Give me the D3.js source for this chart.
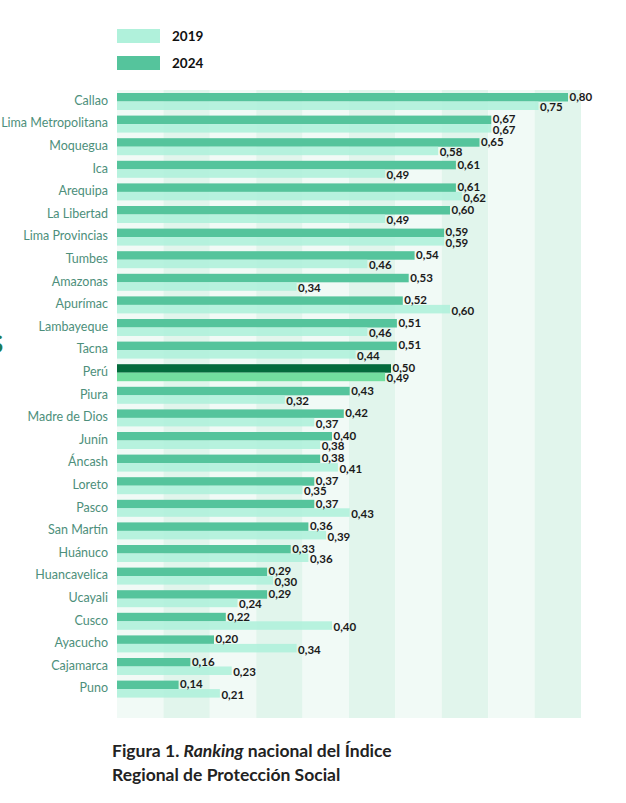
<!DOCTYPE html>
<html>
<head>
<meta charset="utf-8">
<script src="https://cdn.jsdelivr.net/npm/d3@7"></script>
<style>
    body { margin: 0; background: #fff; }
    svg { display: block; }
</style>
</head>
<body>
<svg class="ranking"></svg>
<script>
// data
const regions = ["Callao", "Lima Metropolitana", "Moquegua", "Ica", "Arequipa", "La Libertad",
    "Lima Provincias", "Tumbes", "Amazonas", "Apurímac", "Lambayeque", "Tacna", "Perú", "Piura",
    "Madre de Dios", "Junín", "Áncash", "Loreto", "Pasco", "San Martín", "Huánuco", "Huancavelica",
    "Ucayali", "Cusco", "Ayacucho", "Cajamarca", "Puno"];
const values2024 = [0.80, 0.67, 0.65, 0.61, 0.61, 0.60, 0.59, 0.54, 0.53, 0.52, 0.51, 0.51, 0.50, 0.43,
    0.42, 0.40, 0.38, 0.37, 0.37, 0.36, 0.33, 0.29, 0.29, 0.22, 0.20, 0.16, 0.14];
const values2019 = [0.75, 0.67, 0.58, 0.49, 0.62, 0.49, 0.59, 0.46, 0.34, 0.60, 0.46, 0.44, 0.49, 0.32,
    0.37, 0.38, 0.41, 0.35, 0.43, 0.39, 0.36, 0.30, 0.24, 0.40, 0.34, 0.23, 0.21];
const years = ["2024", "2019"];
const legendYears = ["2019", "2024"];

const W = 626, H = 803;
const plotLeft = 117, plotRight = 581, plotTop = 90, plotBottom = 718;

const colors = {"2024": "#55c49c", "2019": "#b0f1db"};
const peruColors = {"2024": "#036b3c", "2019": "#72de9f"};

const svg = d3.select(".ranking")
    .attr("width", W)
    .attr("height", H);

// scales
const x = d3.scaleLinear()
    .domain([0, 0.8])
    .range([96, 568]);

const y = d3.scaleBand()
    .domain(regions)
    .range([93, 93 + 26 * 22.6 + 17])
    .paddingInner(0.248)
    .paddingOuter(0);

const ySub = d3.scaleBand()
    .domain(years)
    .range([0, y.bandwidth()]);

// background stripes
const stripes = d3.scaleBand()
    .domain(d3.range(10))
    .range([plotLeft, plotRight]);

svg.append("g")
    .selectAll("rect")
    .data(stripes.domain())
    .enter()
    .append("rect")
        .attr("x", d => stripes(d))
        .attr("y", plotTop)
        .attr("width", stripes.bandwidth())
        .attr("height", plotBottom - plotTop)
        .attr("fill", d => d % 2 ? "#e1f5ec" : "#f1faf6");

// legend
const legend = svg.append("g");
legendYears.forEach((yr, i) => {
    legend.append("rect")
        .attr("x", 117)
        .attr("y", 29 + i * 27)
        .attr("width", 43)
        .attr("height", 14)
        .attr("fill", colors[yr]);
    legend.append("text")
        .attr("x", 172)
        .attr("y", 36 + i * 27)
        .attr("dy", "0.35em")
        .style("font-family", "Lato")
        .style("font-weight", "700")
        .style("font-size", "13.5px")
        .style("fill", "#111")
        .text(yr);
});

// bars
const rows = svg.append("g")
    .selectAll("g")
    .data(regions)
    .enter()
    .append("g")
        .attr("transform", d => `translate(0,${y(d)})`);

const rowData = (d, i) => years.map(yr => ({
    region: d, year: yr, value: yr === "2024" ? values2024[i] : values2019[i]
}));

rows.selectAll("rect")
    .data(rowData)
    .enter()
    .append("rect")
        .attr("x", plotLeft)
        .attr("y", d => ySub(d.year))
        .attr("width", d => x(d.value) - plotLeft)
        .attr("height", ySub.bandwidth())
        .attr("fill", d => d.region === "Perú" ? peruColors[d.year] : colors[d.year])
        .attr("fill-opacity", d => d.year === "2019" && d.region !== "Perú" ? 0.9 : 1);

// value labels
rows.selectAll("text.val")
    .data(rowData)
    .enter()
    .append("text")
        .attr("class", "val")
        .attr("x", d => x(d.value) + 1.5)
        .attr("y", d => ySub(d.year) + ySub.bandwidth() / 2 + (d.year === "2019" ? 1.5 : -0.5))
        .attr("dy", "0.35em")
        .style("font-family", "Lato")
        .style("font-weight", "700")
        .style("font-size", "11.5px")
        .style("fill", "#1b1b1b")
        .text(d => d3.format(".2f")(d.value).replace(".", ","));

// region names
rows.append("text")
    .attr("x", 108)
    .attr("y", y.bandwidth() / 2 - 1)
    .attr("dy", "0.35em")
    .attr("text-anchor", "end")
    .style("font-family", "Lato")
    .style("font-size", "12.5px")
    .style("fill", "#4d8f7b")
    .text(d => d);

// clipped glyph at the left edge
svg.append("text")
    .attr("x", -10)
    .attr("y", 353)
    .style("font-family", "Lato")
    .style("font-weight", "700")
    .style("font-size", "24px")
    .style("fill", "#1e7a56")
    .text("S");

// caption
const cap = svg.append("text")
    .attr("x", 112)
    .attr("y", 757)
    .style("font-family", "Lato")
    .style("font-weight", "700")
    .style("font-size", "17.5px")
    .style("fill", "#222");
cap.append("tspan").text("Figura 1. ");
cap.append("tspan").style("font-style", "italic").text("Ranking");
cap.append("tspan").text(" nacional del Índice");

svg.append("text")
    .attr("x", 112)
    .attr("y", 781)
    .style("font-family", "Lato")
    .style("font-weight", "700")
    .style("font-size", "17.5px")
    .style("fill", "#222")
    .text("Regional de Protección Social");
</script>
</body>
</html>
